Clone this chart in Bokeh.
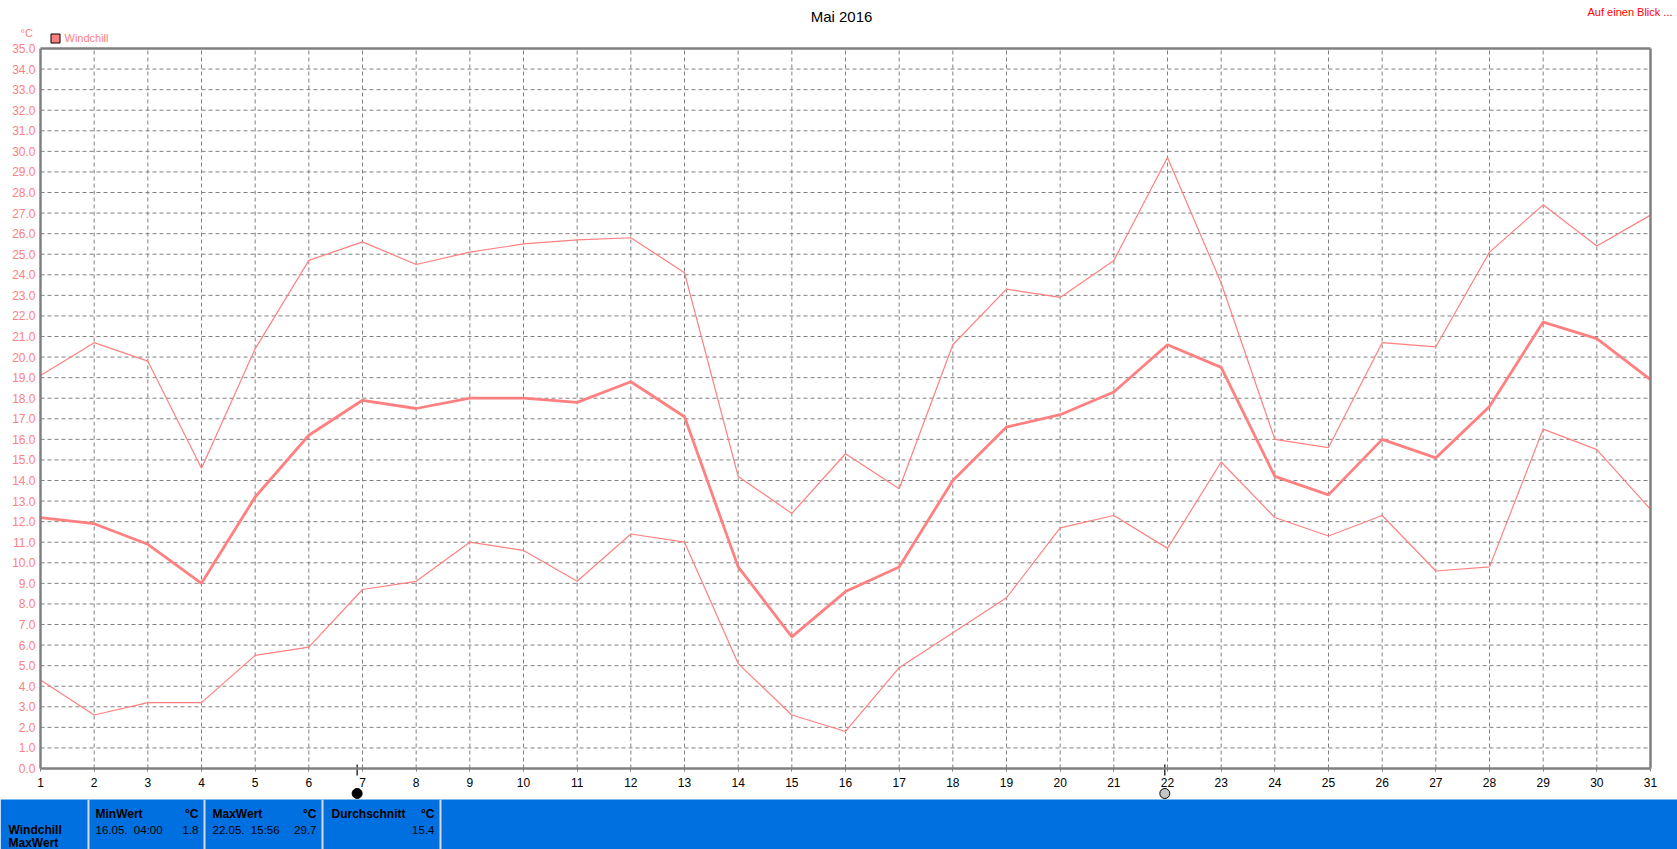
from bokeh.plotting import figure
from bokeh.models import FixedTicker, NumeralTickFormatter, Range1d, LinearAxis
from bokeh.embed import file_html
from bokeh.resources import INLINE
from bokeh.core.properties import value

# ---------------- data ----------------
days = list(range(1, 32))
wc_max = [19.1, 20.7, 19.8, 14.6, 20.4, 24.7, 25.6, 24.5, 25.1, 25.5, 25.7, 25.8, 24.1, 14.2, 12.4, 15.3,
          13.6, 20.6, 23.3, 22.9, 24.7, 29.7, 23.6, 16.0, 15.6, 20.7, 20.5, 25.1, 27.4, 25.4, 26.9]
wc_avg = [12.2, 11.9, 10.9, 9.0, 13.2, 16.2, 17.9, 17.5, 18.0, 18.0, 17.8, 18.8, 17.1, 9.8, 6.4, 8.6,
          9.8, 14.0, 16.6, 17.2, 18.3, 20.6, 19.5, 14.2, 13.3, 16.0, 15.1, 17.6, 21.7, 20.9, 18.9]
wc_min = [4.3, 2.6, 3.2, 3.2, 5.5, 5.9, 8.7, 9.1, 11.0, 10.6, 9.1, 11.4, 11.0, 5.1, 2.6, 1.8,
          4.9, 6.6, 8.3, 11.7, 12.3, 10.7, 14.9, 12.2, 11.3, 12.3, 9.6, 9.8, 16.5, 15.5, 12.6]
y_ticks = list(range(0, 36))
title_text = "Mai 2016"
link_text = "Auf einen Blick ..."
series_name = "Windchill"
unit = "°C"
stat_headers = ["MinWert", "MaxWert", "Durchschnitt"]
stat_times = ["16.05.\u00a0 04:00", "22.05.\u00a0 15:56", ""]
stat_values = ["1.8", "29.7", "15.4"]
marker_days = [6.9, 21.95]

# ---------------- layout (pixels) ----------------
W, H = 1677, 849
L, R, T, B = 40, 1650, 48, 768          # plot box in page pixels
X0, X1, Y0, Y1 = 1, 31, 0, 35
sx = (R - L) / (X1 - X0)
sy = (B - T) / (Y1 - Y0)
PINK = "#FF8080"
GRAY = "#808080"
BLUE = "#0070E0"
FONT = "Liberation Sans"


def py2y(py):
    return Y0 + (B - py) / sy


p = figure(width=W, height=H,
           x_range=Range1d(X0 - L / sx, X1 + (W - R) / sx),
           y_range=Range1d(Y0 - (H - B) / sy, Y1 + T / sy),
           x_axis_type=None, y_axis_type=None,
           toolbar_location=None, output_backend="svg", title=None, min_border=0)
p.extra_x_ranges = {"px": Range1d(0, W)}
p.extra_y_ranges = {"px": Range1d(H, 0)}
p.background_fill_color = "white"
p.border_fill_color = "white"
p.outline_line_color = None
p.grid.visible = False

# grid
grid_x = days[1:-1]
grid_y = y_ticks[1:-1]
p.segment(x0=grid_x, y0=Y0, x1=grid_x, y1=Y1, line_color=GRAY, line_dash="4 3", line_width=1)
p.segment(x0=X0, y0=grid_y, x1=X1, y1=grid_y, line_color=GRAY, line_dash="4 3", line_width=1)

# series
p.line(days, wc_max, line_color=PINK, line_width=1.2)
p.line(days, wc_min, line_color=PINK, line_width=1.2)
p.line(days, wc_avg, line_color=PINK, line_width=2.8)

# frame (top / right)
p.segment(x0=[X0, X1], y0=[Y1, Y0], x1=[X1, X1], y1=[Y1, Y1], line_color=GRAY, line_width=2.5)

# axes
yax = LinearAxis(fixed_location=X0, bounds=(Y0, Y1), ticker=FixedTicker(ticks=y_ticks),
                 formatter=NumeralTickFormatter(format="0.0"))
yax.axis_line_color = GRAY
yax.axis_line_width = 2.5
yax.major_tick_out = 0
yax.major_tick_in = 0
yax.minor_tick_line_color = None
yax.major_label_standoff = 5
yax.major_label_text_color = PINK
yax.major_label_text_font = FONT
yax.major_label_text_font_size = "12px"
p.add_layout(yax, "left")

xax = LinearAxis(fixed_location=Y0, bounds=(X0, X1), ticker=FixedTicker(ticks=days))
xax.axis_line_color = GRAY
xax.axis_line_width = 2.5
xax.major_tick_out = 3
xax.major_tick_in = 0
xax.major_tick_line_color = GRAY
xax.minor_tick_line_color = None
xax.major_label_standoff = 6
xax.major_label_text_color = "black"
xax.major_label_text_font = FONT
xax.major_label_text_font_size = "12px"
p.add_layout(xax, "below")

# markers under the x axis
p.segment(x0=marker_days, y0=py2y(764), x1=marker_days, y1=py2y(775), line_color="black", line_width=1.2)
p.scatter(x=marker_days, y=py2y(793), size=10, marker="circle",
          fill_color=["black", "#C4C4C4"], line_color="black", line_width=1)

# header (pixel coordinates)
kw = dict(x_range_name="px", y_range_name="px", text_font=value(FONT), text_baseline="middle")
p.text(x=[841], y=[15.5], text=[title_text], text_align="center", text_font_size="15px",
       text_color="black", **kw)
p.text(x=[1672], y=[11.5], text=[link_text], text_align="right", text_font_size="11px",
       text_color="#FF0000", **kw)
p.text(x=[20], y=[32.5], text=[unit], text_align="left", text_font_size="11px", text_color=PINK, **kw)
p.quad(left=[50.5], right=[59.5], top=[33.5], bottom=[42.5], fill_color=PINK, line_color="black",
       line_width=1, x_range_name="px", y_range_name="px")
p.text(x=[64], y=[37.5], text=[series_name], text_align="left", text_font_size="11px",
       text_color=PINK, **kw)

# footer (pixel coordinates)
p.quad(left=[0], right=[W], top=[799], bottom=[H], fill_color=BLUE, line_color=None,
       x_range_name="px", y_range_name="px")
sep_left = [87, 203, 321, 439]
p.quad(left=sep_left, right=[s + 2 for s in sep_left], top=799, bottom=H,
       fill_color="#D8D8D8", line_color=None, x_range_name="px", y_range_name="px")
cell_left = [95, 212, 331]
cell_right = [198, 316, 434]
bold = dict(kw, text_font_style="bold", text_font_size="12px", text_color="black")
norm = dict(kw, text_font_style="normal", text_font_size="11.5px", text_color="black")
p.text(x=cell_left, y=[813] * 3, text=stat_headers, text_align="left", **bold)
p.text(x=cell_right, y=[813] * 3, text=[unit] * 3, text_align="right", **bold)
p.text(x=cell_left, y=[829] * 3, text=stat_times, text_align="left", **norm)
p.text(x=cell_right, y=[829] * 3, text=stat_values, text_align="right", **norm)
p.text(x=[8, 8], y=[829, 842], text=[series_name, stat_headers[1]], text_align="left", **bold)

open("out.html", "w").write(file_html(p, INLINE))
